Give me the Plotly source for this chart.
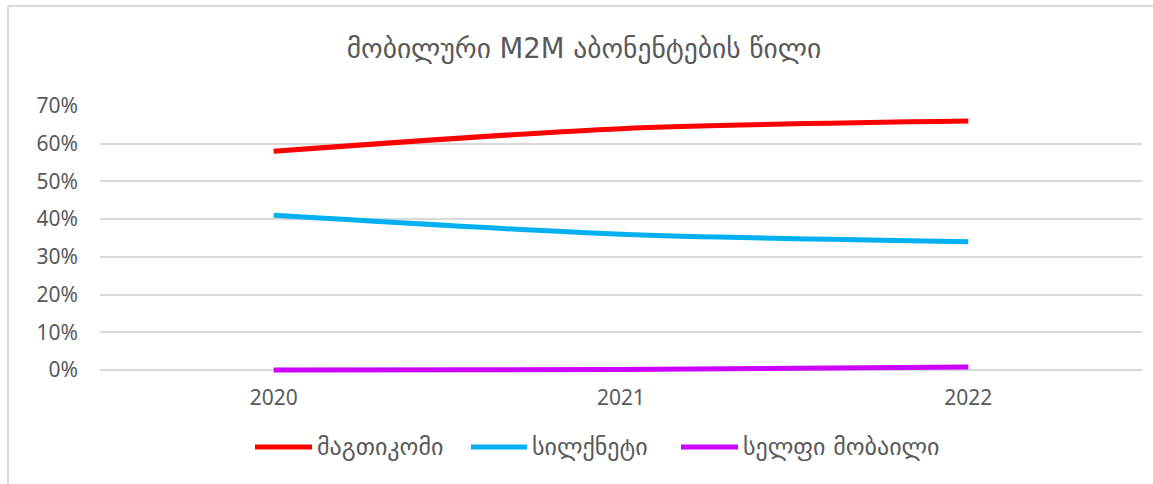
import plotly.graph_objects as go

years = ["2020", "2021", "2022"]
magti = [0.58, 0.64, 0.66]
silknet = [0.41, 0.36, 0.34]
selfie = [0.0, 0.001, 0.008]
names = ["მაგთიკომი", "სილქნეტი", "სელფი მობაილი"]
colors = ["#FF0000", "#00B0F0", "#CC00FF"]
title = "მობილური M2M აბონენტების წილი"

W, H = 1153, 484
ML, MR, MT, MB = 100, 11, 106, 110
ZERO_PX, TOP_PX = 370, 106
per_px = 0.7 / (ZERO_PX - TOP_PX)
y_lo = -(H - MB - ZERO_PX) * per_px

fig = go.Figure()
for vals, nm, c in zip([magti, silknet, selfie], names, colors):
    fig.add_trace(go.Scatter(
        x=years, y=vals, name=nm, mode="lines", cliponaxis=False,
        line=dict(color=c, width=5, shape="spline", smoothing=0.8),
        showlegend=False,
    ))

pw = W - ML - MR
ph = H - MT - MB
def px_x(p):
    return (p - ML) / pw
def px_y(p):
    return (H - MB - p) / ph

border = "#D9D9D9"
fig.add_shape(type="line", xref="paper", yref="paper",
              x0=px_x(8), x1=px_x(W + 5), y0=px_y(6), y1=px_y(6),
              line=dict(color=border, width=2))
fig.add_shape(type="line", xref="paper", yref="paper",
              x0=px_x(8), x1=px_x(8), y0=px_y(6), y1=px_y(H + 5),
              line=dict(color=border, width=2))

geo_font = "DejaVu Sans, Noto Sans, sans-serif"
num_font = "Noto Sans, DejaVu Sans, sans-serif"
grey = "#595959"

# custom legend (line samples + labels)
leg_line_x = [(255, 312), (471, 527), (681, 738)]
leg_text_x = [315, 530, 741]
leg_y = 447
for (x0, x1), tx, nm, c in zip(leg_line_x, leg_text_x, names, colors):
    fig.add_shape(type="line", xref="paper", yref="paper",
                  x0=px_x(x0), x1=px_x(x1), y0=px_y(leg_y), y1=px_y(leg_y),
                  line=dict(color=c, width=5))
    fig.add_annotation(text=nm, xref="paper", yref="paper", x=px_x(tx), y=px_y(leg_y),
                       xanchor="left", yanchor="middle", showarrow=False,
                       font=dict(family=geo_font, size=24, color=grey))

fig.update_layout(
    width=W, height=H,
    margin=dict(l=ML, r=MR, t=MT, b=MB),
    paper_bgcolor="white", plot_bgcolor="white",
    title=dict(text=title, x=584 / W, xref="container", xanchor="center",
               y=1 - 48 / H, yanchor="middle",
               font=dict(family=geo_font, size=27.5, color=grey)),
    font=dict(family=num_font, color=grey),
    xaxis=dict(type="category", range=[-0.5, 2.5], showgrid=False, showline=False,
               zeroline=False, ticks="", ticklabelstandoff=9,
               tickfont=dict(family=num_font, size=21, color=grey)),
    yaxis=dict(range=[y_lo, 0.7], tickvals=[0, 0.1, 0.2, 0.3, 0.4, 0.5, 0.6, 0.7],
               tickformat=".0%", showgrid=True,
               gridcolor="#D9D9D9", gridwidth=1.5, zeroline=False, showline=False,
               ticks="", ticklabelstandoff=21,
               tickfont=dict(family=num_font, size=21, color=grey)),
    showlegend=False,
)

fig.write_html("out.html", config={"displayModeBar": False},
               post_script="document.body.style.margin='0';")
